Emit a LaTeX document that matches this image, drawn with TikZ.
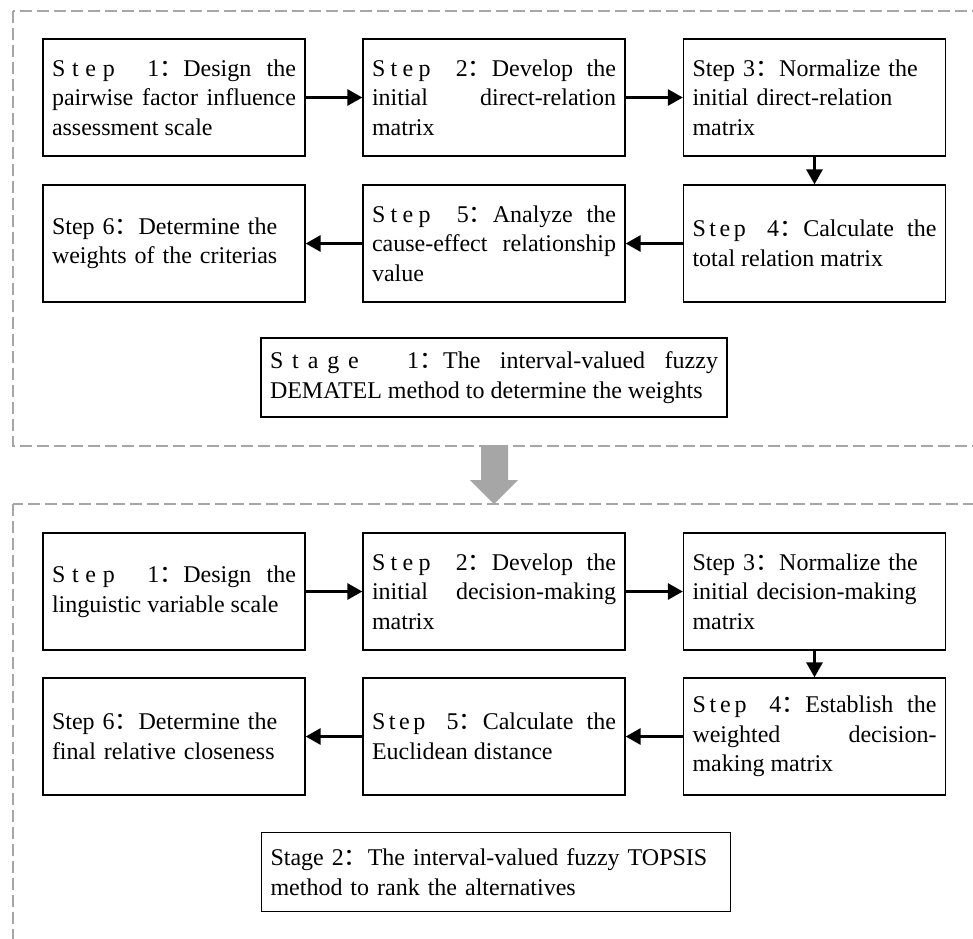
\documentclass[tikz,border=0pt]{standalone}
\usepackage{fontspec}
\setmainfont{Liberation Serif}
\newfontfamily\cjk{Noto Sans CJK SC}
\usetikzlibrary{arrows.meta}
\setlength{\parindent}{0pt}
\tolerance=10000
\hbadness=10000
\hyphenpenalty=10000
\exhyphenpenalty=10000
\newcommand{\fwc}{{\cjk ：}}
\newcommand{\spc}[2]{{\addfontfeature{LetterSpace=#1}#2}}

\begin{document}
\begin{tikzpicture}[x=1pt,y=-1pt,
    stepbox/.style={draw,line width=1.3pt,text width=244pt,inner xsep=9pt,
        minimum height=117pt,font=\fontsize{24}{29.5}\selectfont},
    stagebox/.style={stepbox,text width=448pt,minimum height=79pt},
    frame/.style={draw=gray!70,line width=1.3pt,dash pattern=on 12pt off 5pt},
    flow/.style={line width=2.9pt,-{Triangle[length=15pt,width=16pt]}}]
    \useasboundingbox (0,0) rectangle (973,938);
    \draw[frame] (13,11) rectangle (990,446);
    \draw[frame] (13,504) rectangle (990,960);
    \fill[gray!70] (481,445) -- (508,445) -- (508,480) -- (518,480)
        -- (494,504) -- (470,480) -- (481,480) -- cycle;

    \node[stepbox,align=justify] (dm1) at (174,97.5)
        {\spc{28}{Step 1}\fwc Design the\linebreak pairwise factor influence\linebreak assessment scale};
    \node[stepbox,align=justify] (dm2) at (494,97.5)
        {\spc{22}{Step 2}\fwc Develop the\linebreak initial direct-relation\linebreak matrix};
    \node[stepbox,align=left] (dm3) at (814.5,97.5)
        {Step 3\fwc Normalize the\\ initial direct-relation\\ matrix};
    \node[stepbox,align=justify] (dm4) at (814.5,243.5)
        {\spc{15}{Step 4}\fwc Calculate the\linebreak total relation matrix};
    \node[stepbox,align=justify] (dm5) at (494,243.5)
        {\spc{22}{Step 5}\fwc Analyze the\linebreak cause-effect relationship\linebreak value};
    \node[stepbox,align=left] (dm6) at (174,243.5)
        {Step 6\fwc Determine the\\ weights of the criterias};
    \node[stagebox,align=justify] (st1) at (494,377.5)
        {\spc{37}{Stage 1}\fwc The interval-valued fuzzy\linebreak DEMATEL method to determine the weights};

    \node[stepbox,align=justify] (tp1) at (174,591.5)
        {\spc{28}{Step 1}\fwc Design the\linebreak linguistic variable scale};
    \node[stepbox,align=justify] (tp2) at (494,591.5)
        {\spc{22}{Step 2}\fwc Develop the\linebreak initial decision-making\linebreak matrix};
    \node[stepbox,align=left] (tp3) at (814.5,591.5)
        {Step 3\fwc Normalize the\\ initial decision-making\\ matrix};
    \node[stepbox,align=justify] (tp4) at (814.5,736.5)
        {\spc{16}{Step 4}\fwc Establish the\linebreak weighted decision-\linebreak making matrix};
    \node[stepbox,align=justify] (tp5) at (494,736.5)
        {\spc{15}{Step 5}\fwc Calculate the\linebreak Euclidean distance};
    \node[stepbox,align=left] (tp6) at (174,736.5)
        {Step 6\fwc Determine the\\ final relative closeness};
    \node[stagebox,align=left,text width=451pt] (st2) at (496,872)
        {Stage 2\fwc The interval-valued fuzzy TOPSIS\\ method to rank the alternatives};

    \draw[flow] (dm1) -- (dm2);
    \draw[flow] (dm2) -- (dm3);
    \draw[flow] (dm3) -- (dm4);
    \draw[flow] (dm4) -- (dm5);
    \draw[flow] (dm5) -- (dm6);
    \draw[flow] (tp1) -- (tp2);
    \draw[flow] (tp2) -- (tp3);
    \draw[flow] (tp3) -- (tp4);
    \draw[flow] (tp4) -- (tp5);
    \draw[flow] (tp5) -- (tp6);
\end{tikzpicture}
\end{document}
